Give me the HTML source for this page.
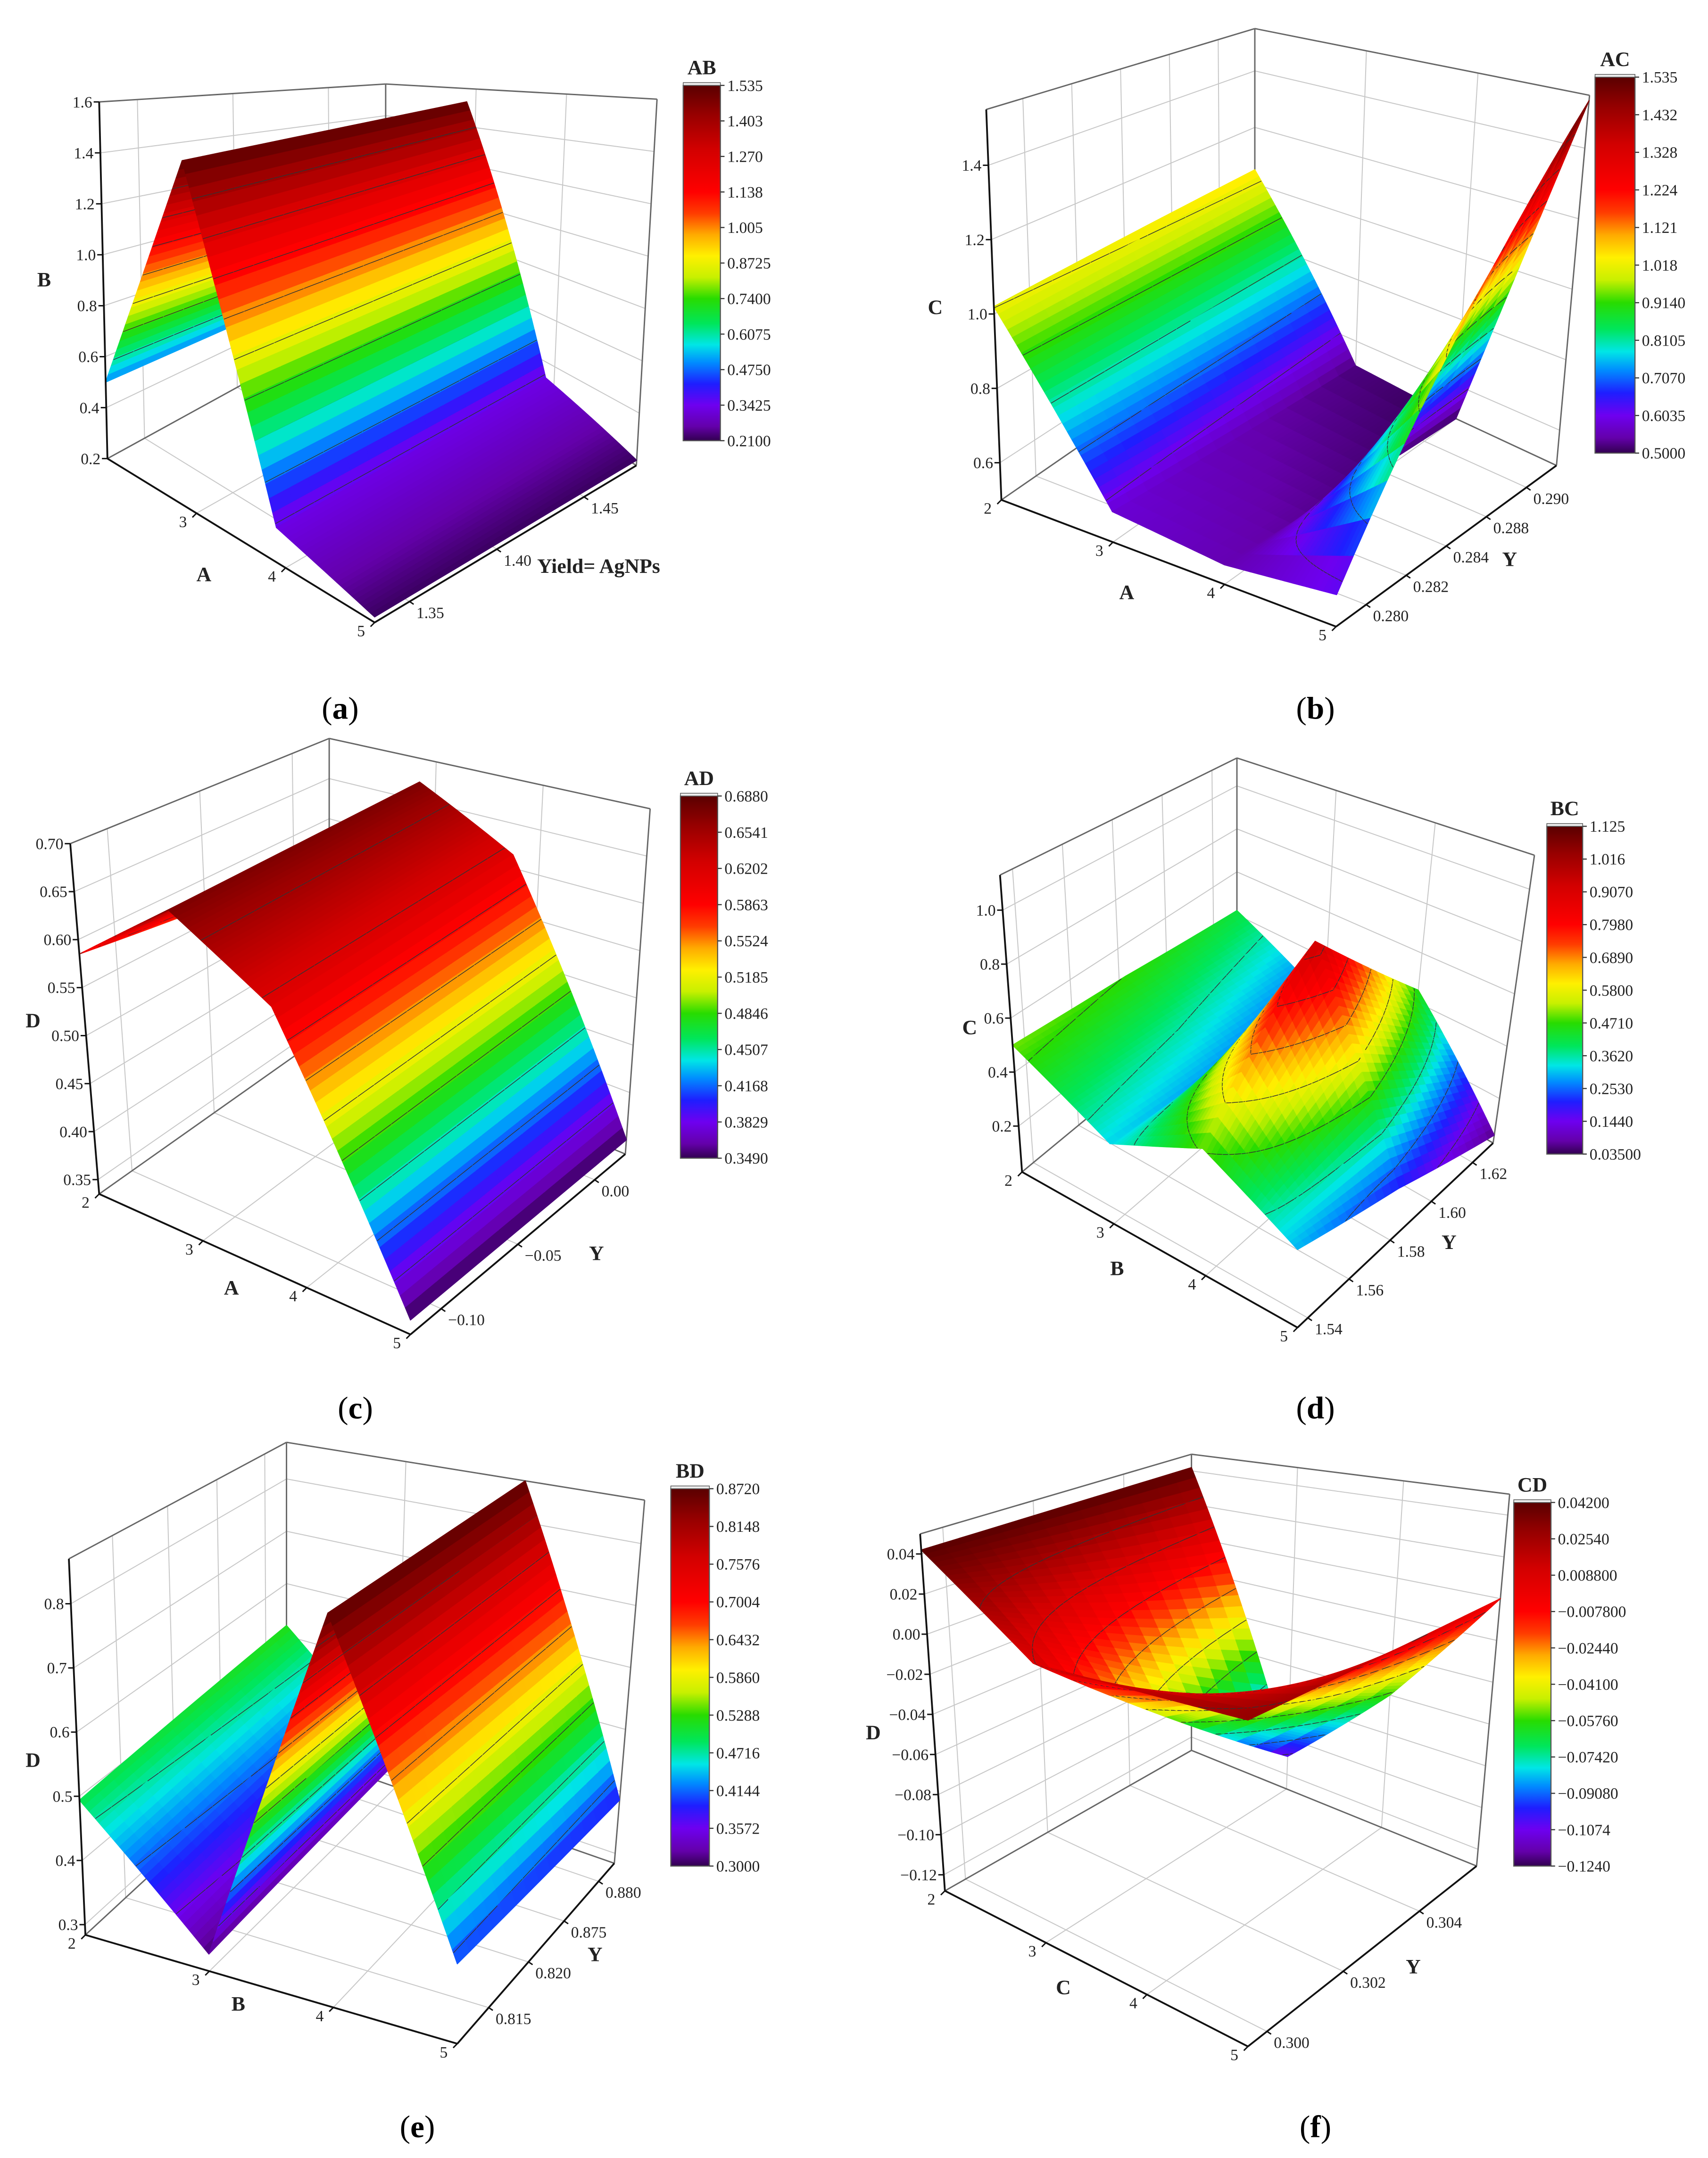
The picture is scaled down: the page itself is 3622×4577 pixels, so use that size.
<!DOCTYPE html>
<html><head><meta charset="utf-8"><title>Response surfaces</title>
<style>
html,body{margin:0;padding:0;background:#fff;}
svg{display:block;}
text{font-family:"Liberation Serif",serif;}
</style></head>
<body>
<svg id="fig" xmlns="http://www.w3.org/2000/svg" width="3622" height="4577" viewBox="0 0 1240 1567" preserveAspectRatio="none">
<rect x="0" y="0" width="1240" height="1567" fill="#fff"/>
<text x="247" y="522" text-anchor="middle" font-size="23">(<tspan font-weight="bold">a</tspan>)</text>
<text x="955" y="522" text-anchor="middle" font-size="23">(<tspan font-weight="bold">b</tspan>)</text>
<text x="258" y="1030" text-anchor="middle" font-size="23">(<tspan font-weight="bold">c</tspan>)</text>
<text x="955" y="1030" text-anchor="middle" font-size="23">(<tspan font-weight="bold">d</tspan>)</text>
<text x="303" y="1552" text-anchor="middle" font-size="23">(<tspan font-weight="bold">e</tspan>)</text>
<text x="955" y="1552" text-anchor="middle" font-size="23">(<tspan font-weight="bold">f</tspan>)</text>
</svg>
<script>
// ---------- data ----------
const abX=[2,2.9,3.9,5];
const abY=[1.33,1.48];
const abZ=[[0.5,1.53,0.33,0.22],[0.5,1.53,0.33,0.22]];
const abZTicks=[0.2,0.4,0.6,0.8,1.0,1.2,1.4,1.6];
const abXTicks=[3,4,5];
const abYTicks=[1.35,1.40,1.45];
const abYTickText=["1.35","1.40","1.45"];
const abBar=["1.535","1.403","1.270","1.138","1.005","0.8725","0.7400","0.6075","0.4750","0.3425","0.2100"];

const acX=[2,3,4,5];
const acY=[0.2785,0.2895];
const acZ=[[1.02,0.58,0.55,0.58],[1.05,0.52,0.5,1.535]];
const acZTicks=[0.6,0.8,1.0,1.2,1.4];
const acXTicks=[2,3,4,5];
const acYTicks=[0.280,0.282,0.284,0.286,0.288];
const acYTickText=["0.280","0.282","0.284","0.288","0.290"];
const acBar=["1.535","1.432","1.328","1.224","1.121","1.018","0.9140","0.8105","0.7070","0.6035","0.5000"];

const adX=[2,2.85,3.75,5];
const adY=[-0.12,0.02];
const adZ=[[0.585,0.672,0.615,0.35],[0.55,0.672,0.615,0.35]];
const adZTicks=[0.35,0.40,0.45,0.50,0.55,0.60,0.65,0.70];
const adXTicks=[2,3,4,5];
const adYTicks=[-0.10,-0.05,0.00];
const adYTickText=["\u22120.10","\u22120.05","0.00"];
const adBar=["0.6880","0.6541","0.6202","0.5863","0.5524","0.5185","0.4846","0.4507","0.4168","0.3829","0.3490"];

const bcX=[2,3,4,5];
const bcY=[1.535,1.5825,1.63];
const bcZ=[[0.5,0.32,0.48,0.3],[0.47,0.28,0.95,0.2],[0.42,0.22,0.45,0.06]];
const bcZTicks=[0.2,0.4,0.6,0.8,1.0];
const bcXTicks=[2,3,4,5];
const bcYTicks=[1.54,1.56,1.58,1.60,1.62];
const bcYTickText=["1.54","1.56","1.58","1.60","1.62"];
const bcBar=["1.125","1.016","0.9070","0.7980","0.6890","0.5800","0.4710","0.3620","0.2530","0.1440","0.03500"];

const bdX=[2,3,4,5];
const bdY=[0.81,0.885];
const bdZ=[[0.494,0.31,0.87,0.40],[0.52,0.33,0.87,0.386]];
const bdZTicks=[0.3,0.4,0.5,0.6,0.7,0.8];
const bdXTicks=[2,3,4,5];
const bdYTicks=[0.825,0.844,0.861,0.8775];
const bdYTickText=["0.815","0.820","0.875","0.880"];
const bdBar=["0.8720","0.8148","0.7576","0.7004","0.6432","0.5860","0.5288","0.4716","0.4144","0.3572","0.3000"];

const cdX=[2,3,4,5];
const cdY=[0.2995,0.3055];
const cdZ=[[0.042,0.01,0.02,0.03],[0.042,-0.11,-0.06,0.0]];
const cdZTicks=[-0.12,-0.10,-0.08,-0.06,-0.04,-0.02,0.00,0.02,0.04];
const cdXTicks=[2,3,4,5];
const cdYTicks=[0.300,0.302,0.304];
const cdYTickText=["0.300","0.302","0.304"];
const cdBar=["0.04200","0.02540","0.008800","\u22120.007800","\u22120.02440","\u22120.04100","\u22120.05760","\u22120.07420","\u22120.09080","\u22120.1074","\u22120.1240"];

// ---------- layout (geometry, not data) ----------
const panels=[
 {id:'ab',xs:abX,ys:abY,Z:abZ,zt:abZTicks,xt:abXTicks,yt:abYTicks,ytt:abYTickText,bar:abBar,title:'AB',
  c:[[78,333],[272,452],[280,222],[462,338]],s:[185,200,115,190],t:[-6,0,0,15],
  x0:2,x1:5,y0:1.33,y1:1.48,z0:0.2,z1:1.6,cmin:0.21,cmax:1.535,
  bx:496,by:62,bw:27,bh:258,zl:'B',zlp:[32,208],xl:'A',xlp:[148,422],yl:'Yield= AgNPs',ylp:[390,416],ylStart:true,zdec:1},
 {id:'ac',xs:acX,ys:acY,Z:acZ,zt:acZTicks,xt:acXTicks,yt:acYTicks,ytt:acYTickText,bar:acBar,title:'AC',
  c:[[727,363],[970,455],[911,236],[1130,338]],s:[270,290,205,256],t:[-11,5,0,24],
  x0:2,x1:5,y0:0.2785,y1:0.2895,z0:0.5,z1:1.55,cmin:0.5,cmax:1.535,
  bx:1158,by:56,bw:29,bh:273,zl:'C',zlp:[679,228],xl:'A',xlp:[818,435],yl:'Y',ylp:[1096,411],zdec:1},
 {id:'ad',xs:adX,ys:adY,Z:adZ,zt:adZTicks,xt:adXTicks,yt:adYTicks,ytt:adYTickText,bar:adBar,title:'AD',
  c:[[72,867],[298,969],[239,749],[454,838]],s:[697,700,583,687],t:[-21,0,0,18],
  x0:2,x1:5,y0:-0.12,y1:0.02,z0:0.335,z1:0.70,cmin:0.349,cmax:0.688,
  bx:494,by:578,bw:27,bh:263,zl:'D',zlp:[24,746],xl:'A',xlp:[168,940],yl:'Y',ylp:[433,915],zdec:2},
 {id:'bc',xs:bcX,ys:bcY,Z:bcZ,zt:bcZTicks,xt:bcXTicks,yt:bcYTicks,ytt:bcYTickText,bar:bcBar,title:'BC',
  c:[[742,851],[942,964],[898,722],[1084,830]],s:[196,210,156,190],t:[-16,0,0,30],
  x0:2,x1:5,y0:1.535,y1:1.63,z0:0.03,z1:1.13,cmin:0.035,cmax:1.125,
  bx:1123,by:600,bw:26,bh:238,zl:'C',zlp:[704,751],xl:'B',xlp:[811,926],yl:'Y',ylp:[1052,907],zdec:1},
 {id:'bd',xs:bdX,ys:bdY,Z:bdZ,zt:bdZTicks,xt:bdXTicks,yt:bdYTicks,ytt:bdYTickText,bar:bdBar,title:'BD',
  c:[[62,1405],[332,1484],[208,1270],[446,1353]],s:[466,500,380,450],t:[-12,0,0,22],
  x0:2,x1:5,y0:0.81,y1:0.885,z0:0.284,z1:0.87,cmin:0.30,cmax:0.872,
  bx:487,by:1081,bw:28,bh:274,zl:'D',zlp:[24,1283],xl:'B',xlp:[173,1460],yl:'Y',ylp:[432,1424],zdec:1},
 {id:'cd',xs:cdX,ys:cdY,Z:cdZ,zt:cdZTicks,xt:cdXTicks,yt:cdYTicks,ytt:cdYTickText,bar:cdBar,title:'CD',
  c:[[686,1373],[906,1486],[865,1271],[1072,1355]],s:[1456,1500,1208,1517],t:[-18,0,0,24],
  x0:2,x1:5,y0:0.2995,y1:0.3055,z0:-0.128,z1:0.05,cmin:-0.124,cmax:0.042,
  bx:1099,by:1091,bw:27,bh:264,zl:'D',zlp:[634,1263],xl:'C',xlp:[772,1448],yl:'Y',ylp:[1026,1433],zdec:2}
];

const NS='http://www.w3.org/2000/svg';
const svg=document.getElementById('fig');
function mk(tag,attrs,parent){const e=document.createElementNS(NS,tag);for(const k in attrs)e.setAttribute(k,attrs[k]);(parent||svg).appendChild(e);return e;}

const stops=[[0,[50,0,80]],[0.04,[100,0,170]],[0.1,[110,0,240]],[0.16,[30,30,255]],[0.22,[0,140,255]],[0.27,[0,230,230]],[0.33,[0,230,90]],[0.4,[40,220,0]],[0.46,[200,240,0]],[0.52,[255,240,0]],[0.58,[255,170,0]],[0.64,[255,60,0]],[0.7,[255,0,0]],[0.82,[210,0,0]],[0.92,[150,0,0]],[1,[90,0,0]]];
function cmap(t){t=Math.max(0,Math.min(1,t));for(let i=1;i<stops.length;i++){if(t<=stops[i][0]){const a=stops[i-1],b=stops[i];const f=(t-a[0])/(b[0]-a[0]);const c=a[1].map((v,k)=>Math.round(v+(b[1][k]-v)*f));return 'rgb('+c.join(',')+')';}}return 'rgb(90,0,0)';}

function bil(q,u,v){return q[0]*(1-u)*(1-v)+q[1]*u*(1-v)+q[2]*(1-u)*v+q[3]*u*v;}
function proj(P,u,v,z){
  const bx=bil([P.c[0][0],P.c[1][0],P.c[2][0],P.c[3][0]],u,v);
  const by=bil([P.c[0][1],P.c[1][1],P.c[2][1],P.c[3][1]],u,v);
  const s=bil(P.s,u,v),t=bil(P.t,u,v);
  const f=(z-P.z0)/(P.z1-P.z0);
  return [bx+t*f, by-s*(z-P.z0)];
}
function U(P,x){return (x-P.x0)/(P.x1-P.x0);}
function V(P,y){return (y-P.y0)/(P.y1-P.y0);}
function line(g,a,b,st,w,name){const l=mk('line',{x1:a[0].toFixed(2),y1:a[1].toFixed(2),x2:b[0].toFixed(2),y2:b[1].toFixed(2),stroke:st,'stroke-width':w},g);
  
  return l;}
function txt(g,x,y,s,size,anchor,bold,name){const e=mk('text',{x:x.toFixed(1),y:y.toFixed(1),'font-size':size,'text-anchor':anchor||'start','fill':'#222'},g);if(bold)e.setAttribute('font-weight','bold');e.textContent=s;
  
  return e;}

panels.forEach(P=>{
  const g=mk('g',{});
  
  
  const grid='#c8c8c8',edge='#666';
  P.zt.forEach(z=>{
    line(g,proj(P,0,0,z),proj(P,0,1,z),grid,0.7,'gridline-z');
    line(g,proj(P,0,1,z),proj(P,1,1,z),grid,0.7,'gridline-z');
  });
  P.xt.forEach(x=>{const u=U(P,x);
    line(g,proj(P,u,1,P.z0),proj(P,u,1,P.z1),grid,0.7,'gridline-x');
    line(g,proj(P,u,0,P.z0),proj(P,u,1,P.z0),grid,0.7,'gridline-x');});
  P.yt.forEach(y=>{const v=V(P,y);
    line(g,proj(P,0,v,P.z0),proj(P,0,v,P.z1),grid,0.7,'gridline-y');
    line(g,proj(P,0,v,P.z0),proj(P,1,v,P.z0),grid,0.7,'gridline-y');});
  line(g,proj(P,0,1,P.z0),proj(P,0,1,P.z1),edge,1,'box-edge');
  line(g,proj(P,0,0,P.z1),proj(P,0,1,P.z1),edge,1,'box-edge');
  line(g,proj(P,0,1,P.z1),proj(P,1,1,P.z1),edge,1,'box-edge');
  line(g,proj(P,1,1,P.z0),proj(P,1,1,P.z1),edge,1,'box-edge');
  line(g,proj(P,0,0,P.z0),proj(P,0,1,P.z0),edge,1,'box-edge');
  line(g,proj(P,0,1,P.z0),proj(P,1,1,P.z0),edge,1,'box-edge');

  // surface quads
  const quads=[];const Nu=26,Nv=14;
  const levels=[];for(let k=1;k<10;k++)levels.push(P.cmin+(P.cmax-P.cmin)*k/10);
  for(let j=0;j<P.ys.length-1;j++)for(let i=0;i<P.xs.length-1;i++){
    const z00=P.Z[j][i],z10=P.Z[j][i+1],z01=P.Z[j+1][i],z11=P.Z[j+1][i+1];
    const ua=U(P,P.xs[i]),ub=U(P,P.xs[i+1]),va=V(P,P.ys[j]),vb=V(P,P.ys[j+1]);
    const pts=[];
    for(let b=0;b<=Nv;b++){pts.push([]);for(let a=0;a<=Nu;a++){
      const fa=a/Nu,fb=b/Nv;const z=z00*(1-fa)*(1-fb)+z10*fa*(1-fb)+z01*(1-fa)*fb+z11*fa*fb;
      const u=ua+(ub-ua)*fa,v=va+(vb-va)*fb;
      pts[b].push({p:proj(P,u,v,z),z:z,u:u,v:v});}}
    for(let b=0;b<Nv;b++)for(let a=0;a<Nu;a++){
      const A=pts[b][a],B=pts[b][a+1],C=pts[b+1][a],D=pts[b+1][a+1];
      const cu=(A.u+D.u)/2,cv=(A.v+D.v)/2;
      const depth=bil([P.c[0][1],P.c[1][1],P.c[2][1],P.c[3][1]],cu,cv);
      quads.push({q:[A,B,D,C],d:depth});
    }
  }
  quads.sort((a,b)=>a.d-b.d);
  const sg=mk('g',{},g);
  
  
  quads.forEach(o=>{
    const q=o.q;const zm=(q[0].z+q[1].z+q[2].z+q[3].z)/4;
    const col=cmap((zm-P.cmin)/(P.cmax-P.cmin));
    const pl=mk('polygon',{points:q.map(r=>r.p[0].toFixed(2)+','+r.p[1].toFixed(2)).join(' '),fill:col,stroke:col,'stroke-width':0.7,'stroke-linejoin':'round'},sg);
    
    
    [[q[0],q[1],q[2]],[q[0],q[2],q[3]]].forEach(t=>{
      levels.forEach(L=>{
        const seg=[];
        for(let k=0;k<3;k++){const p=t[k],r=t[(k+1)%3];
          if((p.z-L)*(r.z-L)<0){const f=(L-p.z)/(r.z-p.z);seg.push([p.p[0]+(r.p[0]-p.p[0])*f,p.p[1]+(r.p[1]-p.p[1])*f]);}}
        if(seg.length===2){line(sg,seg[0],seg[1],'#333',0.5,'contour-line');}
      });
    });
  });

  line(g,proj(P,0,0,P.z0),proj(P,0,0,P.z1),'#111',1.3,'z-axis');
  line(g,proj(P,0,0,P.z0),proj(P,1,0,P.z0),'#111',1.3,'x-axis');
  line(g,proj(P,1,0,P.z0),proj(P,1,1,P.z0),'#111',1.3,'y-axis');
  P.zt.forEach(z=>{const p=proj(P,0,0,z);
    line(g,[p[0]-4,p[1]],p,'#111',1,'z-tick');
    txt(g,p[0]-5,p[1]+4,z.toFixed(P.zdec).replace('-','\u2212'),11.5,'end',false,'z-tick-label');});
  P.xt.forEach(x=>{const p=proj(P,U(P,x),0,P.z0);
    line(g,p,[p[0]-3,p[1]+3],'#111',1,'x-tick');
    txt(g,p[0]-7,p[1]+10,String(x),11.5,'end',false,'x-tick-label');});
  P.yt.forEach((y,k)=>{const p=proj(P,1,V(P,y),P.z0);
    line(g,p,[p[0]+3,p[1]+2],'#111',1,'y-tick');
    txt(g,p[0]+5,p[1]+12,P.ytt[k],11.5,'start',false,'y-tick-label');});
  txt(g,P.zlp[0],P.zlp[1],P.zl,15,'middle',true,'z-axis-title');
  txt(g,P.xlp[0],P.xlp[1],P.xl,15,'middle',true,'x-axis-title');
  txt(g,P.ylp[0],P.ylp[1],P.yl,15,P.ylStart?'start':'middle',true,'y-axis-title');

  const cg=mk('g',{},g);
  
  
  const gid='grad'+P.id;
  const defs=mk('defs',{},cg);
  const lg=mk('linearGradient',{id:gid,x1:0,y1:1,x2:0,y2:0},defs);
  stops.forEach(s=>{mk('stop',{offset:s[0],'stop-color':'rgb('+s[1].join(',')+')'},lg);});
  const r=mk('rect',{x:P.bx,y:P.by,width:P.bw,height:P.bh,fill:'url(#'+gid+')',stroke:'#555','stroke-width':0.8},cg);
  
  
  const r2=mk('rect',{x:P.bx,y:P.by-2,width:P.bw,height:2,fill:'#eee',stroke:'#555','stroke-width':0.5},cg);
  
  
  P.bar.forEach((s,k)=>{const y=P.by+P.bh*k/(P.bar.length-1);
    line(cg,[P.bx+P.bw,y],[P.bx+P.bw+3,y],'#333',0.8,'colorbar-tick');
    txt(cg,P.bx+P.bw+5,y+4,s,11.5,'start',false,'colorbar-tick-label');});
  txt(cg,P.bx+P.bw/2,P.by-8,P.title,15,'middle',true,'colorbar-title');
});
</script>
</body></html>
